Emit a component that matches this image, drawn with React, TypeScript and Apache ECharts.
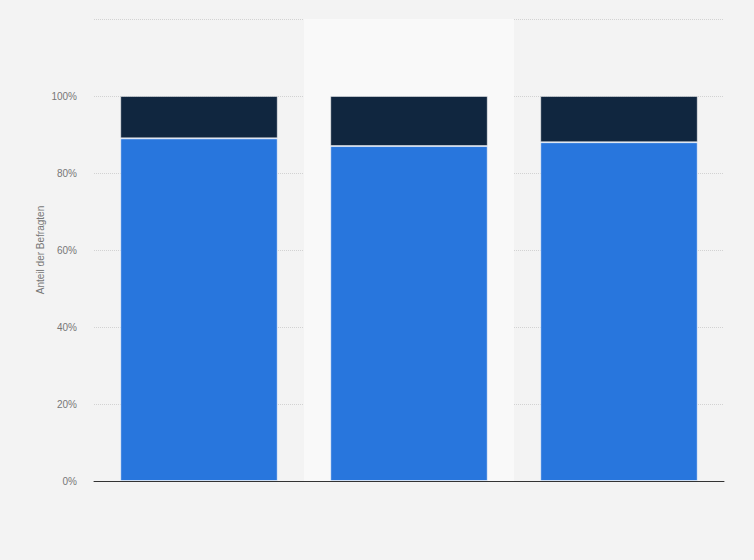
import { useRef, useEffect } from "react";
import * as echarts from "echarts";

const categories = ["Gruppe 1", "Gruppe 2", "Gruppe 3"];
const lowerValues = [89, 87, 88];
const upperValues = [11, 13, 12];
const yTicks = [0, 20, 40, 60, 80, 100, 120];

export default function App() {
  const chartRef = useRef<HTMLDivElement>(null);

  useEffect(() => {
    if (!chartRef.current) return;
    const chart = echarts.init(chartRef.current, undefined, { renderer: "svg" });

    const option: echarts.EChartsOption = {
      animation: false,
      backgroundColor: "#f3f3f3",
      grid: { left: 94, right: 30, top: 19, bottom: 79 },
      xAxis: {
        type: "category",
        data: categories,
        axisLine: { show: true, lineStyle: { color: "#333", width: 1 } },
        axisTick: { show: false },
        axisLabel: { show: false },
        splitArea: { show: true, areaStyle: { color: ["rgba(0,0,0,0)", "#f9f9f9"] } },
      },
      yAxis: {
        type: "value",
        min: yTicks[0],
        max: yTicks[yTicks.length - 1],
        interval: 20,
        name: "Anteil der Befragten",
        nameLocation: "middle",
        nameGap: 49,
        nameMoveOverlap: false,
        nameTextStyle: { color: "#777", fontSize: 10, fontFamily: "Liberation Sans, Arial, sans-serif" },
        axisLine: { show: false },
        axisTick: { show: false },
        axisLabel: {
          color: "#777",
          fontSize: 10,
          margin: 17,
          fontFamily: "Liberation Sans, Arial, sans-serif",
          formatter: (v: number) => (v > 100 ? "" : `${v}%`),
        },
        splitLine: { lineStyle: { color: "#d2d2d2", type: [1, 1], width: 1 } },
      } as any,
      series: [
        {
          name: "Ja",
          type: "bar",
          stack: "total",
          data: lowerValues,
          barCategoryGap: "25%",
          itemStyle: { color: "#2876dd", borderColor: "rgba(255,255,255,0.55)", borderWidth: 1 },
        },
        {
          name: "Nein",
          type: "bar",
          stack: "total",
          data: upperValues,
          barCategoryGap: "25%",
          itemStyle: { color: "#10263f", borderColor: "rgba(255,255,255,0.45)", borderWidth: 1 },
        },
      ],
    };

    chart.setOption(option);
    return () => chart.dispose();
  }, []);

  return (
    <div
      ref={chartRef}
      style={{ position: "fixed", left: 0, top: 0, width: 754, height: 560 }}
    />
  );
}
